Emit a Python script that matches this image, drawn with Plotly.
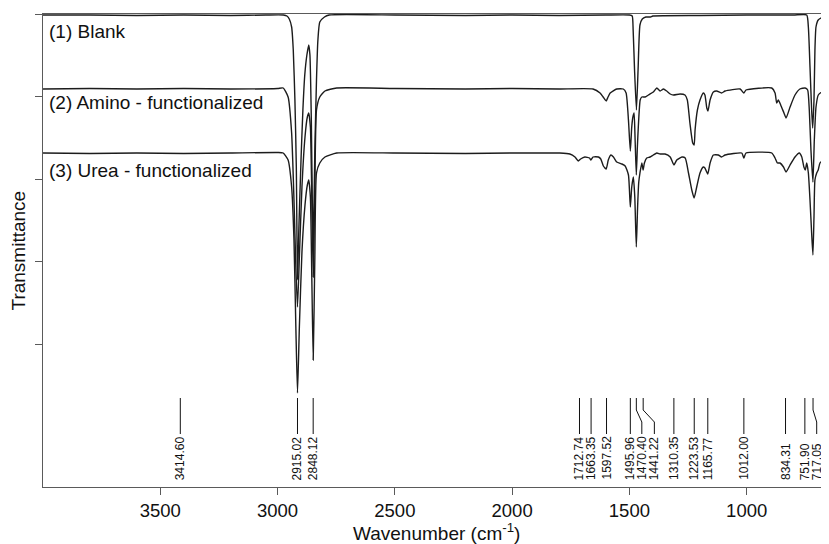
import plotly.graph_objects as go

# ---------------- data ----------------
blank_wn = [4000, 3800, 3600, 3400, 3200, 3050, 2975, 2960, 2950, 2940, 2933, 2926, 2920, 2915,
            2909, 2900, 2892, 2884, 2875, 2867, 2862, 2856, 2852, 2848, 2841, 2834, 2828, 2820,
            2800, 2780, 2500, 2200, 2000, 1800, 1600, 1500, 1488, 1484, 1478, 1470, 1463, 1455,
            1445, 1430, 1410, 1400, 1200, 1000, 800, 744, 737, 730, 723, 718.6, 713, 709, 704.5,
            695, 673, 652, 649]
blank_t = [472, 472, 471.5, 472, 471.5, 472, 472, 471, 468, 460, 437, 387, 320, 207,
           260, 327, 377, 412, 432, 442, 432, 367, 287, 237, 337, 407, 447, 465,
           470, 472, 472, 471.5, 472, 471.5, 472, 472, 471, 457, 417, 377, 417, 462,
           468, 470, 470, 471, 471.5, 472, 472, 472, 460, 420, 377, 359, 387, 437, 460,
           467, 470, 471, 471]

amino_wn = [4000, 3800, 3600, 3400, 3200, 3000, 2976, 2955, 2940, 2930, 2922, 2915, 2907, 2896,
            2883, 2873, 2867, 2860, 2854, 2848, 2841, 2834, 2820, 2798, 2748, 2500, 2200, 2000,
            1800, 1655, 1625, 1612, 1599, 1591, 1582, 1554, 1526, 1514, 1504, 1496, 1490, 1485,
            1480, 1476, 1470.5, 1466, 1462, 1454, 1447, 1433, 1419, 1398, 1383, 1369, 1355, 1341,
            1326, 1312, 1284, 1263, 1253, 1242, 1230, 1224, 1220, 1210, 1199, 1185, 1178, 1170,
            1165, 1156, 1142, 1128, 1107, 1092, 1028, 1012, 1003, 893, 879, 872, 865, 855, 841,
            832, 815, 794, 773, 751, 740, 733, 726, 717.5, 711.6, 704.4, 694.6, 673, 652, 649]
amino_t = [398, 398.5, 398, 398.5, 398, 398.5, 399, 390, 354, 287, 220, 180, 230, 300,
           350, 370, 374, 360, 290, 210, 300, 377, 390, 396, 399, 398.5, 398, 398.5,
           398, 398, 394, 390, 386, 390, 394, 398, 398, 394, 367, 336, 360, 370,
           374, 350, 312, 340, 360, 387, 390, 390, 392, 395, 399, 396, 398, 396,
           393, 392, 393, 392, 387, 364, 344, 342, 357, 377, 387, 394, 392, 379,
           376, 387, 395, 396, 394, 396, 398, 394, 397, 399, 394, 384, 387, 382, 374,
           369, 380, 392, 398, 399, 397, 377, 337, 305, 347, 380, 392, 396, 398, 398]

urea_wn = [4000, 3800, 3600, 3400, 3200, 3000, 2976, 2955, 2940, 2930, 2922, 2915, 2907, 2896,
           2883, 2873, 2867, 2860, 2854, 2848, 2841, 2834, 2820, 2798, 2748, 2500, 2200, 2000,
           1850, 1797, 1754, 1732, 1718, 1708, 1690, 1670, 1664, 1655, 1632, 1622, 1611, 1599,
           1590, 1579, 1568, 1554, 1532, 1518, 1504, 1496, 1490, 1483, 1477, 1470.5, 1465, 1460,
           1455, 1447, 1441.5, 1436, 1426, 1412, 1398, 1383, 1369, 1348, 1326, 1310, 1298, 1276,
           1262, 1248, 1234, 1224, 1213, 1199, 1185, 1178, 1166, 1156, 1142, 1121, 1107, 1092,
           1021, 1012, 1003, 893, 879, 869, 858, 843, 832, 815, 794, 776, 765, 756, 750, 744,
           737, 730, 723, 717.5, 713, 709, 701.5, 695, 687.5, 673, 652, 649]
urea_t = [334, 333.5, 334, 333.5, 334, 334.5, 334, 327, 300, 247, 160, 94, 160, 235,
          282, 302, 307, 290, 210, 127, 230, 314, 324, 330, 334, 334, 333.5, 334,
          334, 334, 333, 330, 326, 328, 330, 329, 327, 330, 330, 328, 321, 318,
          327, 332, 330, 325, 323, 321, 312, 280, 300, 310, 290, 240, 280, 305,
          314, 324, 317, 324, 329, 330, 332, 334, 333, 333, 330, 322, 327, 330,
          329, 314, 297, 289, 300, 314, 320, 319, 313, 324, 332, 332, 330, 332,
          334, 329, 334, 334, 329, 324, 324, 320, 315, 322, 330, 334, 330, 320, 317, 324,
          314, 287, 254, 232, 270, 307, 314, 317, 324, 327, 330, 330]

spectrum_names = ["(1) Blank", "(2) Amino - functionalized", "(3) Urea - functionalized"]
name_levels = [456, 385, 317]

peak_wn = [3414.60, 2915.02, 2848.12, 1712.74, 1663.35, 1597.52, 1495.96, 1470.40, 1441.22,
           1310.35, 1223.53, 1165.77, 1012.00, 834.31, 751.90, 717.05]
peak_label_wn = [3414.60, 2915.02, 2848.12, 1712.74, 1663.35, 1597.52, 1495.96, 1447.0, 1393.5,
                 1310.35, 1223.53, 1165.77, 1012.00, 834.31, 751.90, 701.5]

x_ticks = [3500, 3000, 2500, 2000, 1500, 1000]
y_ticks = [143, 225.5, 308, 390.5, 473]

# ---------------- figure ----------------
FONT = "Liberation Sans, Arial, Helvetica, sans-serif"
LINE = "#1c1c1c"
AX = "#5a5a5a"

fig = go.Figure()
for wn, t in [(blank_wn, blank_t), (amino_wn, amino_t), (urea_wn, urea_t)]:
    fig.add_trace(go.Scatter(x=wn, y=t, mode="lines",
                             line=dict(color=LINE, width=1.4, shape="spline", smoothing=0.5),
                             hoverinfo="skip", showlegend=False))

# peak marker lines (top, jog start, jog end, bottom levels)
TOP, J1, J2, BOT = 89, 77, 65, 53
lx, ly = [], []
for p, lp in zip(peak_wn, peak_label_wn):
    lx += [p, p, lp, lp, None]
    ly += [TOP, J1, J2, BOT, None]
fig.add_trace(go.Scatter(x=lx, y=ly, mode="lines", line=dict(color="#111", width=1),
                         hoverinfo="skip", showlegend=False))

ann = []
for p, lp in zip(peak_wn, peak_label_wn):
    ann.append(dict(x=lp, y=5, xref="x", yref="y", text=f"{p:.2f}", showarrow=False,
                    textangle=-90, xanchor="center", yanchor="bottom",
                    font=dict(family=FONT, size=12, color="#111")))
for name, lev in zip(spectrum_names, name_levels):
    ann.append(dict(x=4000, y=lev, xref="x", yref="y", text=name, showarrow=False,
                    xanchor="left", yanchor="middle", xshift=4,
                    font=dict(family=FONT, size=19, color="#111")))
ann.append(dict(x=0, y=0.5, xref="paper", yref="paper", text="Transmittance", showarrow=False,
                textangle=-90, xanchor="center", yanchor="middle", xshift=-25,
                font=dict(family=FONT, size=19, color="#111")))
ann.append(dict(x=0.5, y=0, xref="paper", yref="paper", text="Wavenumber (cm<sup>-1</sup>)",
                showarrow=False, xanchor="center", yanchor="middle", yshift=-45,
                font=dict(family=FONT, size=19, color="#111")))

# the page body has an 8px margin; size the figure so the plot lands where the reference's does
fig.update_layout(
    width=821, height=536,
    margin=dict(l=35, r=0, t=6, b=57, autoexpand=False),
    paper_bgcolor="white", plot_bgcolor="white",
    annotations=ann,
    xaxis=dict(range=[4000, 649], tickvals=x_ticks, ticks="outside", ticklen=7,
               tickcolor=AX, tickwidth=1.2, showline=True, linecolor=AX, linewidth=1.3,
               mirror=True, showgrid=False, zeroline=False,
               tickfont=dict(family=FONT, size=18.5, color="#111")),
    yaxis=dict(range=[0, 473], tickvals=y_ticks, ticks="outside", ticklen=7,
               tickcolor=AX, tickwidth=1.2, showline=True, linecolor=AX, linewidth=1.3,
               showticklabels=False, showgrid=False, zeroline=False),
)

fig.write_html("out.html")
